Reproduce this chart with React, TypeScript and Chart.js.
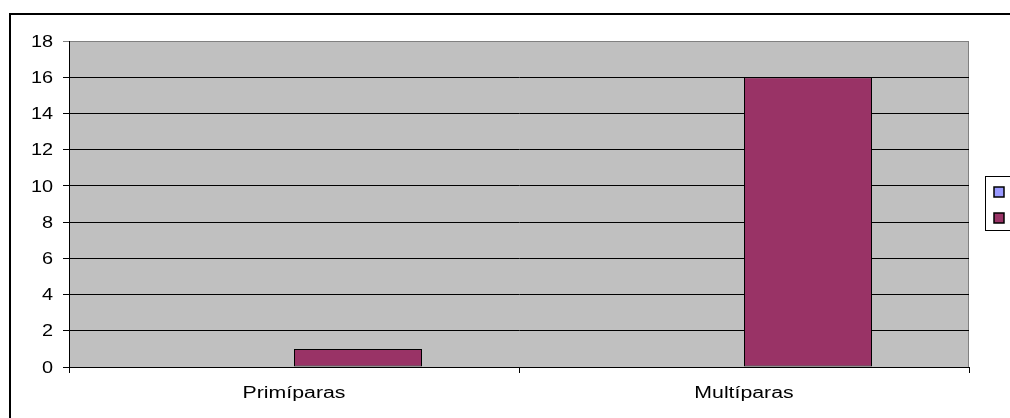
import React, { useEffect, useRef } from "react";
import { Chart, registerables } from "chart.js";

Chart.register(...registerables);

const categories = ["Primíparas", "Multíparas"];
const seriesLabels = ["", ""];
const series1Values = [0, 0];
const series2Values = [1, 16];
const seriesColors = ["#9999FF", "#993366"];
const yMin = 0;
const yMax = 18;
const yStep = 2;

const frameAndLegend = {
  id: "frameAndLegend",
  beforeDraw(chart: any) {
    const { ctx, chartArea } = chart;
    ctx.save();
    ctx.fillStyle = "#ffffff";
    ctx.fillRect(0, 0, chart.width, chart.height);
    // outer chart border
    ctx.strokeStyle = "#000000";
    ctx.lineWidth = 2;
    ctx.strokeRect(10, 14, chart.width + 20, chart.height + 20);
    // plot area
    ctx.fillStyle = "#C0C0C0";
    ctx.fillRect(chartArea.left, chartArea.top, chartArea.right - chartArea.left, chartArea.bottom - chartArea.top);
    ctx.strokeStyle = "#808080";
    ctx.lineWidth = 1;
    ctx.strokeRect(chartArea.left + 0.5, chartArea.top + 0.5, chartArea.right - chartArea.left - 1, chartArea.bottom - chartArea.top);
    ctx.restore();
  },
  afterDraw(chart: any) {
    const { ctx } = chart;
    ctx.save();
    // legend
    ctx.strokeStyle = "#000000";
    ctx.lineWidth = 1;
    ctx.strokeRect(985.5, 176.5, 40, 54);
    const ys = [187, 213];
    seriesColors.forEach((c, i) => {
      ctx.fillStyle = c;
      ctx.fillRect(994, ys[i], 10, 10);
      ctx.strokeStyle = "#000000";
      ctx.lineWidth = 1.5;
      ctx.strokeRect(994, ys[i], 10, 10);
    });
    // y tick labels
    const yScale = chart.scales.y;
    ctx.fillStyle = "#000000";
    ctx.font = '17px "Liberation Sans", Arial, sans-serif';
    ctx.textAlign = "right";
    ctx.textBaseline = "middle";
    yScale.ticks.forEach((t: any) => {
      const y = yScale.getPixelForValue(t.value);
      ctx.save();
      ctx.translate(53, y + 1);
      ctx.scale(1.17, 1);
      ctx.fillText(String(t.value), 0, 0);
      ctx.restore();
    });
    // x tick labels
    const xScale = chart.scales.x;
    ctx.font = '16px "Liberation Sans", Arial, sans-serif';
    ctx.textAlign = "center";
    ctx.textBaseline = "alphabetic";
    categories.forEach((c, i) => {
      const x = xScale.getPixelForValue(i);
      ctx.save();
      ctx.translate(x, 398);
      ctx.scale(1.33, 1);
      ctx.fillText(c, 0, 0);
      ctx.restore();
    });
    ctx.restore();
  },
};

export default function App() {
  const ref = useRef<HTMLCanvasElement>(null);
  useEffect(() => {
    if (!ref.current) return;
    const chart = new Chart(ref.current, {
      type: "bar",
      data: {
        labels: categories,
        datasets: [
          {
            label: seriesLabels[0],
            data: series1Values,
            backgroundColor: seriesColors[0],
            borderColor: "#000000",
            borderWidth: 1,
            borderSkipped: false,
          },
          {
            label: seriesLabels[1],
            data: series2Values,
            backgroundColor: seriesColors[1],
            borderColor: "#000000",
            borderWidth: 1,
            borderSkipped: false,
          },
        ],
      },
      options: {
        responsive: false,
        animation: false,
        devicePixelRatio: 1,
        layout: { padding: { left: 0, top: 41, right: 41, bottom: 0 } },
        datasets: { bar: { categoryPercentage: 256 / 450, barPercentage: 1 } },
        plugins: {
          legend: { display: false },
          tooltip: { enabled: false },
          title: { display: false },
        },
        scales: {
          x: {
            grid: {
              offset: true,
              drawOnChartArea: false,
              drawTicks: true,
              tickLength: 6,
              color: "#000000",
            },
            border: { color: "#000000", width: 1 },
            ticks: { color: "rgba(0,0,0,0)", font: { size: 16 } },
            afterFit: (s: any) => {
              s.height = 51;
            },
          },
          y: {
            min: yMin,
            max: yMax,
            ticks: { stepSize: yStep, color: "rgba(0,0,0,0)", font: { size: 16 } },
            grid: {
              drawTicks: true,
              tickLength: 6,
              color: (c: any) => (c.tick && c.tick.value === yMax ? "#808080" : "#000000"),
            },
            border: { color: "#000000", width: 1 },
            afterFit: (s: any) => {
              s.width = 69;
            },
          },
        },
      },
      plugins: [frameAndLegend],
    });
    return () => chart.destroy();
  }, []);
  return (
    <div style={{ position: "absolute", left: 0, top: 0, width: 1010, height: 418 }}>
      <canvas ref={ref} width={1010} height={418} />
    </div>
  );
}
